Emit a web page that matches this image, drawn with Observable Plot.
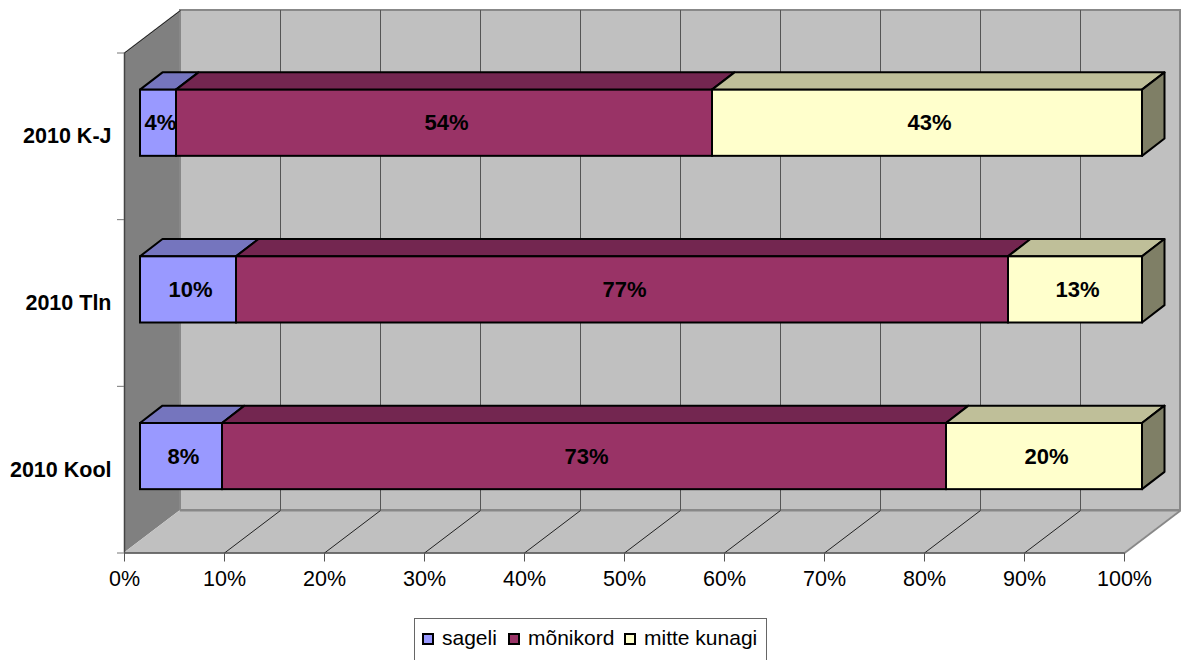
<!DOCTYPE html>
<html>
<head>
<meta charset="utf-8">
<style>
html,body{margin:0;padding:0;background:#fff;overflow:hidden;width:1186px;height:660px}
#chart{position:absolute;left:0;top:0}
#legend{position:absolute;left:414px;top:618px;width:353px;height:42px;border:1.5px solid #666;border-bottom:none;box-sizing:border-box;font:21px "Liberation Sans",Arial,sans-serif;color:#000}
#legend i{position:absolute;top:14px;width:12px;height:12px;border:2px solid #000;box-sizing:border-box}
#legend span{position:absolute;top:7px;line-height:24px;white-space:nowrap}
</style>
<script src="https://cdn.jsdelivr.net/npm/d3@7"></script>
<script src="https://cdn.jsdelivr.net/npm/@observablehq/plot@0.6"></script>
</head>
<body>
<div id="chart"></div>
<div id="legend"></div>
<script>
const categories = ["2010 Kool", "2010 Tln", "2010 K-J"];
const seriesNames = ["sageli", "mõnikord", "mitte kunagi"];
const sageli = [8.2, 9.6, 3.6];
const monikord = [72.4, 77.2, 53.6];
const mitteKunagi = [19.6, 13.4, 43.0];
const valueLabels = [["8%", "73%", "20%"], ["10%", "77%", "13%"], ["4%", "54%", "43%"]];
const frontColors = ["#9999FF", "#993366", "#FFFFCC"];
const topColors = ["#7575BE", "#732650", "#BFBF99"];
const sideColor = "#7F7F66";
const xTicks = [0, 10, 20, 30, 40, 50, 60, 70, 80, 90, 100];
const yTicks = [0, 1, 2, 3];

const font = '"Liberation Sans", Arial, sans-serif';
const wallDx = 5.6, wallDy = 0.255;      // depth of the chart box, in scale units
const barDx = 2.25, barDy = 0.104;       // depth of a bar
const barStart = 1.6, barLow = 0.38, barHigh = 0.777;

const series = [sageli, monikord, mitteKunagi];
const segments = [];
categories.forEach((c, row) => {
  let acc = barStart;
  series.forEach((vals, s) => {
    segments.push({row, s, x1: acc, x2: acc + vals[row], y1: row + barLow, y2: row + barHigh, label: valueLabels[row][s]});
    acc += vals[row];
  });
});
const topFaces = segments.flatMap((d, i) => [
  {id: i, color: topColors[d.s], y: d.y2, a: d.x1, b: d.x2},
  {id: i, color: topColors[d.s], y: d.y2 + barDy, a: d.x1 + barDx, b: d.x2 + barDx}
]);
const sideFaces = segments.filter(d => d.s === 2).flatMap((d, i) => [
  {id: i, x: d.x2, a: d.y1, b: d.y2},
  {id: i, x: d.x2 + barDx, a: d.y1 + barDy, b: d.y2 + barDy}
]);
const leftWall = [
  {x: 0, a: 0, b: 3},
  {x: wallDx, a: wallDy, b: 3 + wallDy}
];
const floor = [
  {y: 0, a: 0, b: 100},
  {y: wallDy, a: wallDx, b: 100 + wallDx}
];
const inner = xTicks.slice(1, -1);

const plot = Plot.plot({
  width: 1186, height: 610,
  marginLeft: 124, marginRight: 62, marginTop: 10, marginBottom: 57.5,
  style: {background: "transparent", fontFamily: font},
  x: {domain: [0, 100], range: [124, 1124]},
  y: {domain: [0, 3], range: [552.5, 52.5]},
  color: {type: "identity"},
  marks: [
    Plot.areaY(leftWall, {x: "x", y1: "a", y2: "b", fill: "#808080"}),
    Plot.rect([0], {x1: wallDx, x2: 100 + wallDx, y1: wallDy, y2: 3 + wallDy, fill: "#C0C0C0", stroke: "#888", strokeWidth: 2, inset: 0}),
    Plot.areaX(floor, {y: "y", x1: "a", x2: "b", fill: "#C0C0C0"}),
    Plot.ruleY([0], {y: wallDy, x1: wallDx, x2: 100 + wallDx, stroke: "#888", strokeWidth: 2}),
    Plot.link([100], {x1: 100, y1: 0, x2: 100 + wallDx, y2: wallDy, stroke: "#888", strokeWidth: 2}),
    Plot.ruleX(inner, {x: d => d + wallDx, y1: wallDy, y2: 3 + wallDy, stroke: "#555", strokeWidth: 1}),
    Plot.link(inner, {x1: d => d, y1: 0, x2: d => d + wallDx, y2: wallDy, stroke: "#222", strokeWidth: 1}),
    Plot.link([0], {x1: 0, y1: 3, x2: wallDx, y2: 3 + wallDy, stroke: "#222", strokeWidth: 1}),
    Plot.ruleX([0], {y1: 0, y2: 3, stroke: "#444", strokeWidth: 1.5}),
    Plot.ruleY([0], {x1: 0, x2: 100, stroke: "#444", strokeWidth: 1.5}),
    Plot.axisX({ticks: xTicks, tickSize: 9, tickPadding: 9, stroke: "#555", tickFormat: d => d + "%", fontSize: 21.5, color: "#000", label: null}),
    Plot.axisY({ticks: yTicks, tickSize: 7, stroke: "#777", tickFormat: () => "", label: null}),
    Plot.text(categories, {x: 0, y: (d, i) => i + 0.5, text: d => d, dx: -13, textAnchor: "end", fontWeight: "bold", fontSize: 21.5, fill: "#000"}),
    Plot.areaX(topFaces, {y: "y", x1: "a", x2: "b", z: "id", fill: "color", stroke: "#000", strokeWidth: 2}),
    Plot.areaY(sideFaces, {x: "x", y1: "a", y2: "b", z: "id", fill: sideColor, stroke: "#000", strokeWidth: 2}),
    Plot.rect(segments, {x1: "x1", x2: "x2", y1: "y1", y2: "y2", fill: d => frontColors[d.s], stroke: "#000", strokeWidth: 2, inset: 0}),
    Plot.text(segments, {x: d => (d.x1 + d.x2) / 2, y: d => (d.y1 + d.y2) / 2, text: "label", dx: 2, fontWeight: "bold", fontSize: 22, fill: "#000"})
  ]
});
document.getElementById("chart").appendChild(plot);

const legend = document.getElementById("legend");
const swatchLeft = [7, 93, 209];
const labelLeft = [27, 113, 229];
seriesNames.forEach((name, i) => {
  const sw = document.createElement("i");
  sw.style.left = swatchLeft[i] + "px";
  sw.style.background = frontColors[i];
  legend.appendChild(sw);
  const t = document.createElement("span");
  t.style.left = labelLeft[i] + "px";
  t.textContent = name;
  legend.appendChild(t);
});
</script>
</body>
</html>
